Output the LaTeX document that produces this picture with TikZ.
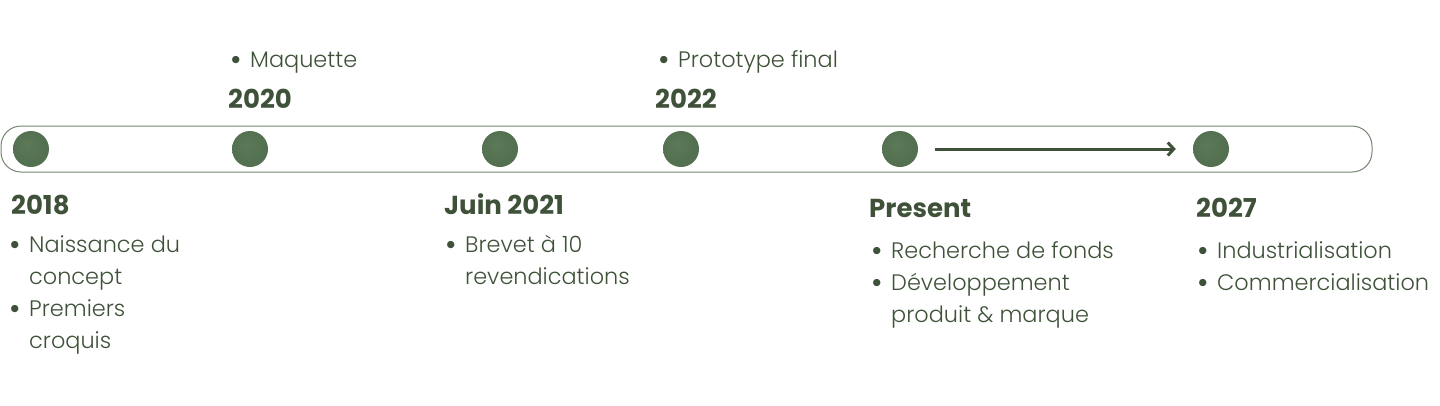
\documentclass[tikz,border=0pt]{standalone}
\usepackage{fontspec}
\setmainfont{Poppins}
\newfontfamily\lightfont{Poppins Light}
\usetikzlibrary{positioning,arrows.meta}

\definecolor{txtgreen}{HTML}{3F5239}
\definecolor{dotgreen}{HTML}{537050}
\definecolor{dotlight}{HTML}{5C7A58}
\definecolor{dotdark}{HTML}{34462F}
\definecolor{rimgray}{HTML}{76846F}
\pgfdeclareradialshading{dotshade}{\pgfpoint{-6bp}{6bp}}{color(0bp)=(dotlight); color(22bp)=(dotgreen); color(42bp)=(dotgreen); color(52bp)=(dotdark)}
\newcommand{\blt}{\makebox[16pt][l]{\hspace*{-4pt}\raisebox{-3pt}{\scalebox{1.4}{\textbullet}}}}
\newcommand{\ind}{\hspace*{16pt}}

\begin{document}
\begin{tikzpicture}[
    x=1pt, y=-1pt,
    track/.style={draw=rimgray, line width=1pt, rounded corners=20pt, minimum width=1371pt, minimum height=46pt},
    dot/.style={circle, minimum size=36pt, inner sep=0pt, shading=dotshade},
    year/.style={anchor=base west, inner sep=0pt, text=txtgreen, font=\fontsize{26}{30}\selectfont\bfseries},
    items/.style={inner sep=0pt, align=left, text=txtgreen, font=\lightfont\fontsize{22.4}{32}\selectfont},
    flow/.style={-{Straight Barb[length=6pt, width=13pt]}, line width=3pt, draw=txtgreen, shorten <=17pt, shorten >=17pt}
]
\useasboundingbox (0,0) rectangle (1440,405);

\node[track] (track) at (686.5,149) {};

\node[dot] (d18) at (31,149) {};
\node[dot] (d20) at (250,149) {};
\node[dot] (d21) at (500,149) {};
\node[dot] (d22) at (681,149) {};
\node[dot] (dpres) at (900,149) {};
\node[dot] (d27) at (1211,149) {};

\draw[flow] (dpres) -- (d27);

% above the track
\node[year] (y20) at (228,108) {2020};
\node[year] (y22) at (655,108) {2022};
\node[items, above right=15pt and 6pt of y20.north west, anchor=south west] (l20) {\blt Maquette};
\node[items, above right=15pt and 7pt of y22.north west, anchor=south west] (l22) {\blt Prototype final};

% below the track
\node[year] (y18) at (11,214) {2018};
\node[year] (y21) at (444,214) {Juin 2021};
\node[year] (ypres) at (869,217) {Present};
\node[year] (y27) at (1196,217) {2027};

\node[items, below right=21pt and 2pt of y18.south west] (l18)
    {\blt Naissance du\\ \ind concept\\ \blt Premiers\\ \ind croquis};
\node[items, below right=21pt and 5pt of y21.south west] (l21)
    {\blt Brevet à 10\\ \ind revendications};
\node[items, below right=24pt and 6pt of ypres.south west] (lpres)
    {\blt Recherche de fonds\\ \blt Développement\\ \ind produit \& marque};
\node[items, below right=24pt and 5pt of y27.south west] (l27)
    {\blt Industrialisation\\ \blt Commercialisation};
\end{tikzpicture}
\end{document}
